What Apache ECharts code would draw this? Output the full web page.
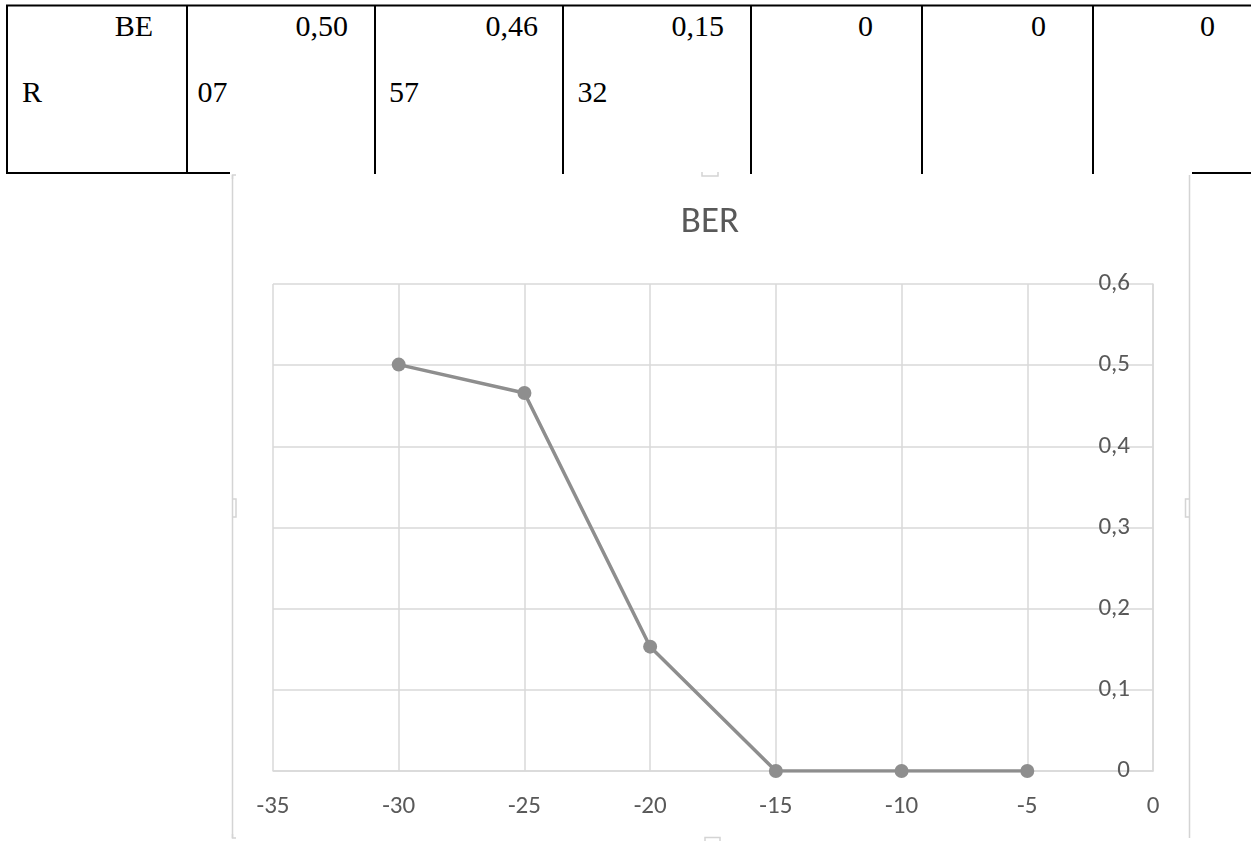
<!DOCTYPE html>
<html>
<head>
<meta charset="utf-8">
<script src="https://cdn.jsdelivr.net/npm/echarts@6/dist/echarts.min.js"></script>
<style>
  html, body { margin: 0; padding: 0; background: #ffffff; }
  #page { position: relative; width: 1251px; height: 841px; overflow: hidden; background: #fff; }
  #deco { position: absolute; left: 0; top: 0; }
  #chart { position: absolute; left: 0; top: 0; width: 1251px; height: 841px; }
</style>
</head>
<body>
<div id="page">
  <svg id="deco" width="1251" height="841" xmlns="http://www.w3.org/2000/svg"></svg>
  <div id="chart"></div>
</div>
<script>
// ---------- data ----------
const tableRowLine1 = ['BE', '0,50', '0,46', '0,15', '0', '0', '0'];
const tableRowLine2 = ['R', '07', '57', '32', '', '', ''];

const chartTitle = 'BER';
const snrValues = [-30, -25, -20, -15, -10, -5];
const berValues = [0.5007, 0.4657, 0.1532, 0, 0, 0];

const xMin = -35, xMax = 0, xStep = 5;
const yMin = 0, yMax = 0.6, yStep = 0.1;

// ---------- document table (above the chart) ----------
const svgNS = 'http://www.w3.org/2000/svg';
const svg = document.getElementById('deco');
function add(tag, attrs, text) {
  const el = document.createElementNS(svgNS, tag);
  for (const k in attrs) el.setAttribute(k, attrs[k]);
  if (text !== undefined) el.textContent = text;
  svg.appendChild(el);
  return el;
}
const colLines = [7, 187, 375, 563, 751, 922, 1093];
const line1Right = [153, 348, 538, 724, 873, 1046, 1215];
const line2Left = [22, 197.5, 389, 577.5, 0, 0, 0];
// borders
add('line', {x1: 6, y1: 5.5, x2: 1251, y2: 5.5, stroke: '#000', 'stroke-width': 2});
colLines.forEach(x => add('line', {x1: x, y1: 5, x2: x, y2: 174, stroke: '#000', 'stroke-width': 2}));
add('line', {x1: 6, y1: 173, x2: 230, y2: 173, stroke: '#000', 'stroke-width': 2});
add('line', {x1: 1192, y1: 173, x2: 1251, y2: 173, stroke: '#000', 'stroke-width': 2});
const serif = "'Times New Roman', 'Liberation Serif', serif";
tableRowLine1.forEach((t, i) => {
  add('text', {x: line1Right[i], y: 36, 'text-anchor': 'end', 'font-family': serif, 'font-size': 30, fill: '#000'}, t);
});
tableRowLine2.forEach((t, i) => {
  if (t) add('text', {x: line2Left[i], y: 102, 'text-anchor': 'start', 'font-family': serif, 'font-size': 30, fill: '#000'}, t);
});
// chart frame (selection outline)
const frameCol = '#d4d4d4';
add('line', {x1: 232.5, y1: 175, x2: 232.5, y2: 838, stroke: frameCol, 'stroke-width': 1.5});
add('line', {x1: 1189.5, y1: 175, x2: 1189.5, y2: 838, stroke: frameCol, 'stroke-width': 1.5});
add('path', {d: 'M232.5,179 L232.5,175 L236,175', fill: 'none', stroke: frameCol, 'stroke-width': 1.5});
add('path', {d: 'M232.5,499 L236,499 L236,517 L232.5,517', fill: 'none', stroke: frameCol, 'stroke-width': 1.5});
add('path', {d: 'M1189.5,499 L1185.5,499 L1185.5,517 L1189.5,517', fill: 'none', stroke: frameCol, 'stroke-width': 1.5});
add('path', {d: 'M702,172 L702,176 L718,176 L718,172', fill: 'none', stroke: frameCol, 'stroke-width': 1.5});
add('path', {d: 'M705,841 L705,837.5 L720,837.5 L720,841', fill: 'none', stroke: frameCol, 'stroke-width': 1.5});
add('path', {d: 'M232.5,834 L232.5,838 L236,838', fill: 'none', stroke: frameCol, 'stroke-width': 1.5});

// ---------- chart ----------
const font = "Carlito, Lato, 'Open Sans', sans-serif";
const gridCol = '#d9d9d9';
const textCol = '#595959';
const lineCol = '#8e8e8e';
const chart = echarts.init(document.getElementById('chart'), null, {renderer: 'canvas'});
chart.setOption({
  backgroundColor: 'transparent',
  animation: false,
  title: {
    text: chartTitle,
    left: 705,
    top: 199,
    textAlign: 'center',
    textStyle: {color: textCol, fontSize: 37, fontWeight: 'normal', fontFamily: font}
  },
  grid: {left: 273, right: 98, top: 284, bottom: 70, containLabel: false},
  xAxis: {
    type: 'value', min: xMin, max: xMax, interval: xStep,
    axisLine: {show: true, onZero: false, lineStyle: {color: gridCol, width: 1.5}},
    axisTick: {show: false},
    splitLine: {show: true, lineStyle: {color: gridCol, width: 1.5}},
    axisLabel: {color: textCol, fontSize: 25, fontFamily: font, margin: 23}
  },
  yAxis: {
    type: 'value', position: 'right', min: yMin, max: yMax, interval: yStep,
    axisLine: {show: true, lineStyle: {color: gridCol, width: 1.5}},
    axisTick: {show: false},
    splitLine: {show: true, lineStyle: {color: gridCol, width: 1.5}},
    axisLabel: {
      inside: true, margin: 23, color: textCol, fontSize: 25, fontFamily: font,
      formatter: v => String(Math.round(v * 10) / 10).replace('.', ',')
    }
  },
  series: [{
    type: 'line',
    data: snrValues.map((x, i) => [x, berValues[i]]),
    symbol: 'circle', symbolSize: 14,
    lineStyle: {color: lineCol, width: 3.5},
    itemStyle: {color: lineCol},
    z: 3
  }]
});
</script>
</body>
</html>
